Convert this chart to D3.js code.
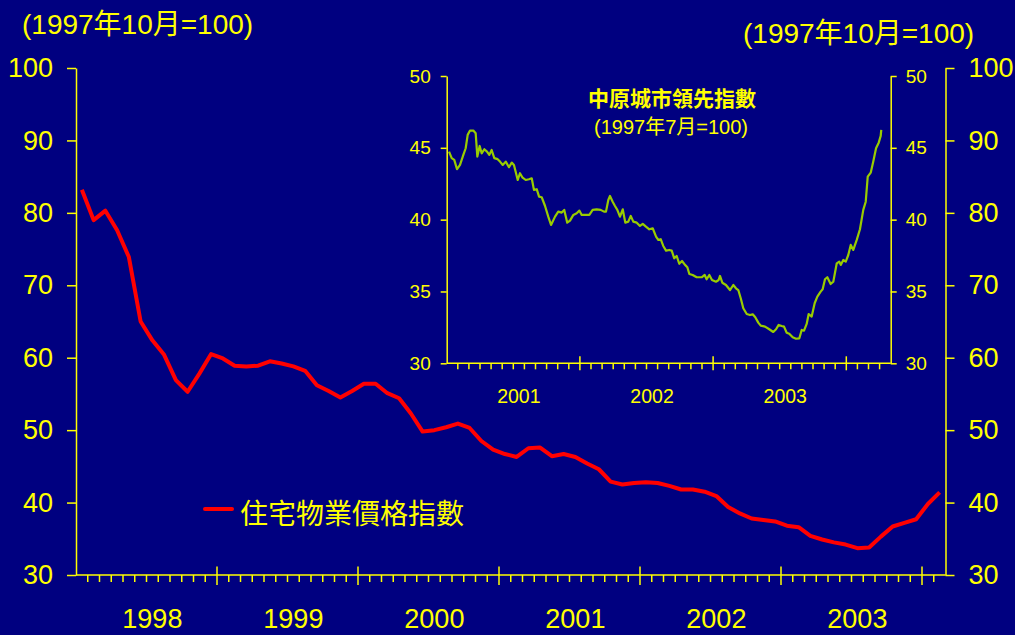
<!DOCTYPE html>
<html>
<head>
<meta charset="utf-8">
<script src="https://cdn.jsdelivr.net/npm/d3@7/dist/d3.min.js"></script>
<style>
    body { margin: 0; background: #000080; }
    svg { display: block; }
    text { font-family: "Liberation Sans", Arial, "Noto Sans CJK TC", sans-serif; fill: #ffff00; }
</style>
</head>
<body>
<svg width="1015" height="635"></svg>
<script>
// main series: monthly, Jan 1998 .. Feb 2004 (1997-10 = 100)
const years = ["1998", "1999", "2000", "2001", "2002", "2003"];
const priceIndex = [
    83.2, 79.0, 80.3, 77.6, 73.9, 65.0, 62.4, 60.4, 56.9, 55.3, 57.8, 60.5,
    59.9, 58.9, 58.8, 58.9, 59.5, 59.2, 58.8, 58.2, 56.2, 55.4, 54.5, 55.4,
    56.4, 56.4, 55.1, 54.4, 52.3, 49.8, 50.0, 50.4, 50.9, 50.3, 48.5, 47.3,
    46.7, 46.3, 47.5, 47.6, 46.4, 46.7, 46.3, 45.4, 44.6, 42.9, 42.5, 42.7,
    42.8, 42.7, 42.3, 41.8, 41.8, 41.5, 40.9, 39.4, 38.5, 37.8, 37.6, 37.4,
    36.8, 36.6, 35.4, 34.9, 34.5, 34.2, 33.7, 33.8, 35.3, 36.7, 37.2, 37.7,
    39.8, 41.4
];
const mainTicks = [30, 40, 50, 60, 70, 80, 90, 100];

// inset: CCL weekly, time in months from Jan 2001 (1997-07 = 100)
const cclYears = ["2001", "2002", "2003"];
const cclMonth = [
    0.21, 0.45, 0.68, 0.93, 1.20, 1.50, 1.71, 1.89, 2.10, 2.40, 2.61, 2.76, 2.97, 3.15, 3.39, 3.63,
    3.84, 4.05, 4.29, 4.59, 4.80, 5.05, 5.32, 5.61, 5.86, 6.06, 6.40, 6.60, 6.81, 7.12, 7.41, 7.66,
    7.86, 8.11, 8.32, 8.56, 8.86, 9.15, 9.40, 9.76, 10.05, 10.36, 10.59, 10.86, 11.11, 11.41, 11.71, 11.95,
    12.16, 12.46, 12.85, 13.15, 13.51, 13.87, 14.17, 14.35, 14.56, 14.71, 14.95, 15.16, 15.37, 15.61, 15.86, 16.09,
    16.36, 16.58, 16.81, 17.12, 17.41, 17.66, 17.95, 18.25, 18.56, 18.86, 19.06, 19.28, 19.51, 19.76, 20.05, 20.27,
    20.50, 20.72, 20.95, 21.20, 21.47, 21.68, 21.86, 22.16, 22.52, 22.97, 23.24, 23.42, 23.66, 23.90, 24.26, 24.50,
    24.62, 24.83, 25.16, 25.52, 25.82, 26.06, 26.27, 26.49, 26.72, 27.03, 27.32, 27.57, 27.80, 28.07, 28.29, 28.68,
    29.06, 29.42, 29.67, 29.91, 30.18, 30.39, 30.63, 30.86, 31.17, 31.47, 31.77, 31.98, 32.19, 32.43, 32.61, 32.88,
    33.15, 33.39, 33.69, 33.87, 34.08, 34.29, 34.59, 34.83, 35.14, 35.37, 35.50, 35.73, 35.95, 36.18, 36.40, 36.63,
    36.94, 37.23, 37.53, 37.75, 37.93, 38.20, 38.43, 38.68, 38.92, 39.10, 39.15
];
const cclValue = [
    44.74, 44.28, 44.16, 43.51, 43.81, 44.51, 44.97, 45.90, 46.20, 46.20, 46.02, 44.39, 45.13, 44.62, 44.90, 44.74,
    44.51, 44.85, 44.28, 44.21, 44.04, 43.81, 44.04, 43.65, 43.97, 43.81, 42.76, 43.23, 42.95, 42.76, 42.81, 42.88,
    42.07, 42.12, 41.60, 41.56, 40.95, 40.21, 39.63, 40.21, 40.56, 40.49, 40.68, 39.79, 39.93, 40.33, 40.45, 40.63,
    40.33, 40.33, 40.33, 40.68, 40.72, 40.68, 40.56, 40.56, 41.37, 41.65, 41.25, 40.95, 40.68, 40.21, 40.72, 39.79,
    39.86, 40.26, 39.86, 39.79, 39.56, 39.70, 39.51, 39.33, 39.40, 38.82, 38.59, 38.64, 38.17, 37.84, 37.89, 37.84,
    37.31, 37.47, 36.93, 37.12, 36.85, 36.69, 36.22, 36.15, 35.99, 35.99, 36.15, 35.85, 36.15, 35.80, 35.68, 35.80,
    36.08, 35.61, 35.45, 35.10, 35.45, 35.22, 35.10, 34.53, 33.83, 33.43, 33.36, 33.41, 33.20, 32.83, 32.62, 32.55,
    32.37, 32.18, 32.37, 32.67, 32.60, 32.55, 32.13, 32.06, 31.81, 31.71, 31.74, 32.32, 32.27, 32.74, 33.43, 33.25,
    34.18, 34.64, 34.99, 35.15, 35.85, 35.99, 35.52, 35.68, 36.96, 37.08, 36.85, 37.19, 37.08, 37.54, 38.24, 37.89,
    38.59, 39.33, 40.68, 41.25, 42.99, 43.27, 44.04, 44.97, 45.36, 45.83, 46.25
];
const cclTicks = [30, 35, 40, 45, 50];

const yellow = "#ffff00";
const svg = d3.select("svg");

// main chart
const nMonths = priceIndex.length;
const x = d3.scaleLinear().domain([0, nMonths]).range([76, 945.5]);
const y = d3.scaleLinear().domain([30, 100]).range([575, 68]);

function styleAxis(g, size) {
    g.attr("font-size", size)
        .attr("font-family", null);
    g.select(".domain").attr("stroke", yellow).attr("stroke-width", 1.5);
    g.selectAll(".tick line").attr("stroke", yellow).attr("stroke-width", 1.5);
    g.selectAll(".tick text").attr("fill", yellow);
}

svg.append("g")
    .attr("transform", `translate(${x.range()[0]},0)`)
    .call(d3.axisLeft(y).tickValues(mainTicks).tickSize(9).tickSizeOuter(0).tickPadding(14))
    .call(g => styleAxis(g, 27));

svg.append("g")
    .attr("transform", `translate(${x.range()[1]},0)`)
    .call(d3.axisRight(y).tickValues(mainTicks).tickSize(9).tickSizeOuter(0).tickPadding(14))
    .call(g => styleAxis(g, 27));

function categoryAxis(xs, y0, n, minorLen, majorUp, majorDown) {
    const g = svg.append("g").attr("stroke", yellow).attr("stroke-width", 1.5);
    g.append("line")
        .attr("x1", xs(0)).attr("x2", xs(n))
        .attr("y1", y0).attr("y2", y0);
    g.selectAll(".tick")
        .data(d3.range(1, n))
        .join("line")
        .attr("x1", d => xs(d)).attr("x2", d => xs(d))
        .attr("y1", d => d % 12 === 0 ? y0 - majorUp : y0)
        .attr("y2", d => d % 12 === 0 ? y0 + majorDown : y0 + minorLen);
}

categoryAxis(x, 575, nMonths, 7, 8.5, 10);

svg.append("g")
    .selectAll("text")
    .data(years)
    .join("text")
    .attr("x", (d, i) => x(i * 12 + 6.5))
    .attr("y", 628)
    .attr("text-anchor", "middle")
    .attr("font-size", 27)
    .text(d => d);

svg.append("path")
    .datum(priceIndex)
    .attr("fill", "none")
    .attr("stroke", "#ff0000")
    .attr("stroke-width", 4)
    .attr("stroke-linejoin", "round")
    .attr("d", d3.line().x((d, i) => x(i + 0.5)).y(d => y(d)));

svg.append("text")
    .attr("x", 22)
    .attr("y", 34)
    .attr("font-size", 28)
    .text("(1997年10月=100)");

svg.append("text")
    .attr("x", 743)
    .attr("y", 43)
    .attr("font-size", 28)
    .text("(1997年10月=100)");

// legend
svg.append("line")
    .attr("x1", 205).attr("x2", 232)
    .attr("y1", 509).attr("y2", 509)
    .attr("stroke", "#ff0000")
    .attr("stroke-width", 4)
    .attr("stroke-linecap", "round");

svg.append("text")
    .attr("x", 240)
    .attr("y", 524)
    .attr("font-size", 28)
    .text("住宅物業價格指數");

// inset chart
const nCcl = 40;
const xi = d3.scaleLinear().domain([0, nCcl]).range([446.7, 890.7]);
const yi = d3.scaleLinear().domain([30, 50]).range([363.3, 76]);

svg.append("g")
    .attr("transform", `translate(${xi.range()[0]},0)`)
    .call(d3.axisLeft(yi).tickValues(cclTicks).tickSize(6).tickSizeOuter(0).tickPadding(10))
    .call(g => styleAxis(g, 19));

svg.append("g")
    .attr("transform", `translate(${xi.range()[1]},0)`)
    .call(d3.axisRight(yi).tickValues(cclTicks).tickSize(6).tickSizeOuter(0).tickPadding(9))
    .call(g => styleAxis(g, 19));

categoryAxis(xi, 363.3, nCcl, 6, 7, 7);

svg.append("g")
    .selectAll("text")
    .data(cclYears)
    .join("text")
    .attr("x", (d, i) => xi(i * 12 + 6.5))
    .attr("y", 403)
    .attr("text-anchor", "middle")
    .attr("font-size", 19.5)
    .text(d => d);

svg.append("path")
    .datum(d3.zip(cclMonth, cclValue))
    .attr("fill", "none")
    .attr("stroke", "#99cc00")
    .attr("stroke-width", 2.2)
    .attr("stroke-linejoin", "round")
    .attr("d", d3.line().x(d => xi(d[0])).y(d => yi(d[1])));

svg.append("text")
    .attr("x", 672)
    .attr("y", 106)
    .attr("text-anchor", "middle")
    .attr("font-size", 21)
    .attr("font-weight", "bold")
    .text("中原城市領先指數");

svg.append("text")
    .attr("x", 671)
    .attr("y", 134)
    .attr("text-anchor", "middle")
    .attr("font-size", 20)
    .text("(1997年7月=100)");
</script>
</body>
</html>
